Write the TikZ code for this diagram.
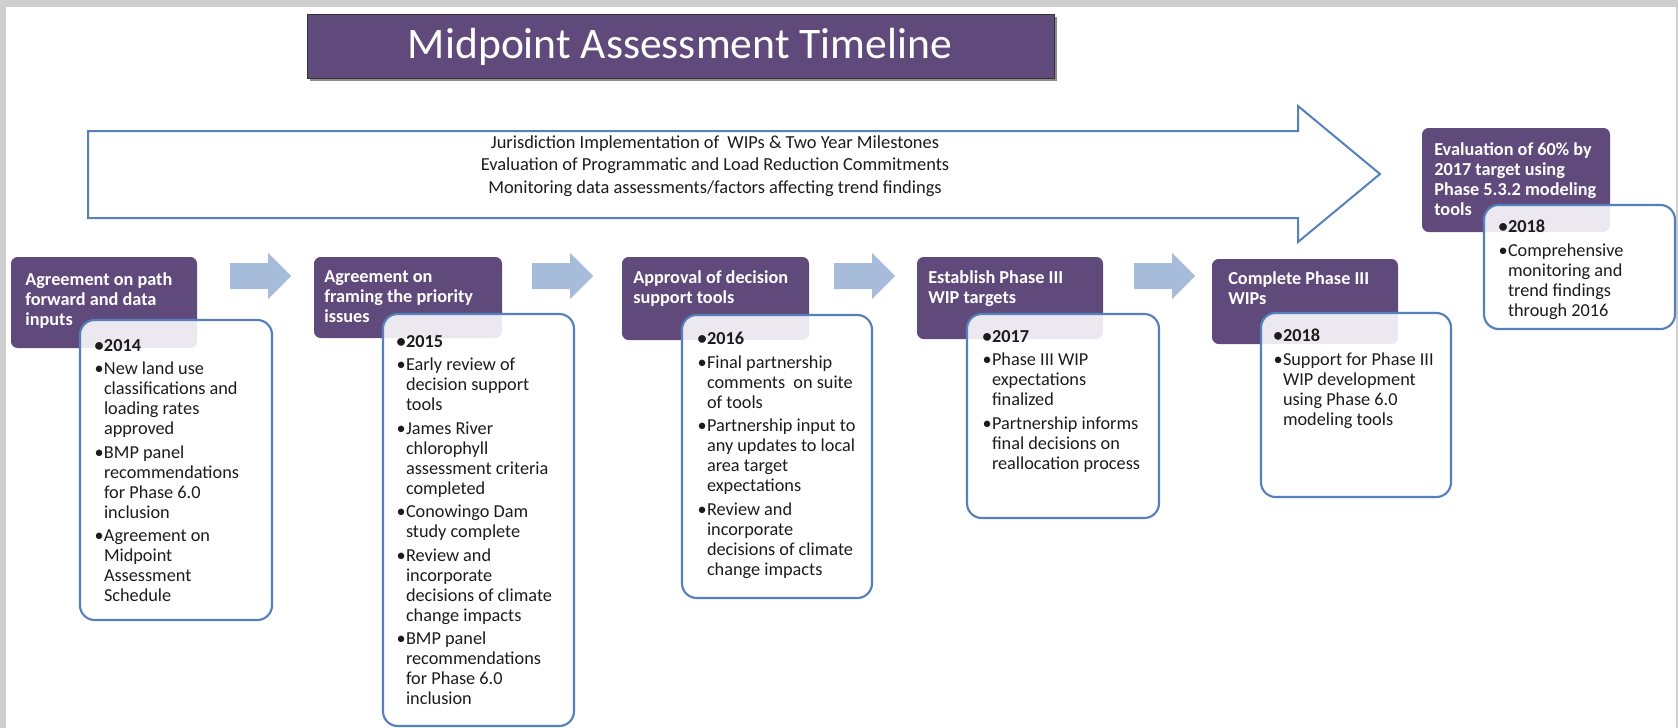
\documentclass[tikz,border=0pt]{standalone}
\usepackage{fontspec}
\setmainfont{Carlito}
\definecolor{hdrpurple}{RGB}{96,74,124}
\definecolor{cardblue}{RGB}{86,128,188}
\definecolor{chevblue}{RGB}{167,188,218}
\definecolor{framegrey}{RGB}{207,207,207}
\definecolor{inktext}{RGB}{28,28,28}
% bullet and continuation indent for the card lists
\newcommand{\bu}{\makebox[5.8pt][l]{\hspace*{-1.3pt}\textbullet}}
\newcommand{\ct}{\hspace*{5.8pt}}
% a box given by its corners (in px units): name, style, x1, y1, x2, y2
\newcommand{\boxat}[6]{%
  \node[#2, minimum width={(#5-#3)*0.75pt}, minimum height={(#6-#4)*0.75pt}]
    (#1) at ({(#3+#5)/2},{(#4+#6)/2}) {};}
% block arrow between two stages, starting at x = #1
\newcommand{\chevron}[1]{%
  \fill[chev] (#1,263) -- ({#1+38},263) -- ({#1+38},253) -- ({#1+61},276)
    -- ({#1+38},299) -- ({#1+38},289) -- (#1,289) -- cycle;}
\begin{document}
\begin{tikzpicture}[x=0.75pt,y=-0.75pt,
  hdr/.style={fill=hdrpurple, draw=none, rounded corners=5pt, inner sep=0pt, outer sep=0pt},
  card/.style={draw=cardblue, line width=1.6pt, fill=white, fill opacity=0.88,
    rounded corners=11pt, inner sep=0pt, outer sep=0pt},
  hdrtext/.style={anchor=north west, inner sep=0pt, align=left, text=white,
    font=\bfseries\fontsize{13.7}{15}\selectfont},
  cardtext/.style={anchor=north west, inner sep=0pt, align=left, text=inktext,
    font=\fontsize{13.7}{15}\selectfont},
  chev/.style={fill=chevblue},
  bigarrow/.style={draw=cardblue, line width=1.5pt, fill=white, line join=miter}]

\useasboundingbox (0,0) rectangle (1678,728);
% page frame
\fill[framegrey] (0,0) rectangle (1678,728);
\fill[white] (6,7) rectangle (1676,728);

% title bar with its shadow
\fill[black!45] (310,17) rectangle (1057,81);
\boxat{title}{fill=hdrpurple, draw=black!80, line width=0.6pt, inner sep=0pt}{307}{14}{1054}{78}
\node[text=white, font=\fontsize{32.7}{36}\selectfont] (titletext) at (680,47) {Midpoint Assessment Timeline};

% long background arrow
\draw[bigarrow] (88,131) -- (1298,131) -- (1298,106) -- (1380,174) -- (1298,242)
  -- (1298,218) -- (88,218) -- cycle;
\node[align=center, text=inktext, font=\fontsize{13.8}{16.9}\selectfont] (arrowtext) at (715,166)
  {Jurisdiction Implementation of\ \ WIPs \& Two Year Milestones\\
   Evaluation of Programmatic and Load Reduction Commitments\\
   Monitoring data assessments/factors affecting trend findings};

% stage headers
\boxat{h1}{hdr}{11}{257}{197}{348}
\boxat{h2}{hdr}{314}{257}{502}{338}
\boxat{h3}{hdr}{622}{257}{809}{340}
\boxat{h4}{hdr}{917}{257}{1103}{339}
\boxat{h5}{hdr}{1212}{259}{1398}{344}
\boxat{h6}{hdr}{1422}{128}{1610}{232}

\node[hdrtext] (h1t) at (25,272) {Agreement on path\\forward and data\\inputs};
\node[hdrtext] (h2t) at (324,270) {Agreement on\\framing the priority\\issues};
\node[hdrtext] (h3t) at (633,270) {Approval of decision\\support tools};
\node[hdrtext] (h4t) at (928,270) {Establish Phase III\\WIP targets};
\node[hdrtext] (h5t) at (1228,271) {Complete Phase III\\WIPs};
\node[hdrtext] (h6t) at (1434,142) {Evaluation of 60\% by\\2017 target using\\Phase 5.3.2 modeling\\tools};

% arrows between stages
\chevron{230}
\chevron{532}
\chevron{834}
\chevron{1134}

% detail cards
\boxat{c1}{card}{80}{320}{272}{620}
\boxat{c2}{card}{383}{314}{574}{726}
\boxat{c3}{card}{682}{315}{872}{598}
\boxat{c4}{card}{967}{314}{1159}{518}
\boxat{c5}{card}{1261}{313}{1451}{497}
\boxat{c6}{card}{1484}{205}{1675}{329}

\node[cardtext] (c1t) at (96,339) {\textbf{\bu 2014}\\[2.6pt]
  \bu New land use\\ \ct classifications and\\ \ct loading rates\\ \ct approved\\[2.6pt]
  \bu BMP panel\\ \ct recommendations\\ \ct for Phase 6.0\\ \ct inclusion\\[2.6pt]
  \bu Agreement on\\ \ct Midpoint\\ \ct Assessment\\ \ct Schedule};

\node[cardtext] (c2t) at (398,335) {\textbf{\bu 2015}\\[2.6pt]
  \bu Early review of\\ \ct decision support\\ \ct tools\\[2.6pt]
  \bu James River\\ \ct chlorophyll\\ \ct assessment criteria\\ \ct completed\\[2.6pt]
  \bu Conowingo Dam\\ \ct study complete\\[2.6pt]
  \bu Review and\\ \ct incorporate\\ \ct decisions of climate\\ \ct change impacts\\[2.6pt]
  \bu BMP panel\\ \ct recommendations\\ \ct for Phase 6.0\\ \ct inclusion};

\node[cardtext] (c3t) at (699,332) {\textbf{\bu 2016}\\[2.6pt]
  \bu Final partnership\\ \ct comments\ \ on suite\\ \ct of tools\\[2.6pt]
  \bu Partnership input to\\ \ct any updates to local\\ \ct area target\\ \ct expectations\\[2.6pt]
  \bu Review and\\ \ct incorporate\\ \ct decisions of climate\\ \ct change impacts};

\node[cardtext] (c4t) at (984,330) {\textbf{\bu 2017}\\[2.6pt]
  \bu Phase III WIP\\ \ct expectations\\ \ct finalized\\[2.6pt]
  \bu Partnership informs\\ \ct final decisions on\\ \ct reallocation process};

\node[cardtext] (c5t) at (1275,329) {\textbf{\bu 2018}\\[2.6pt]
  \bu Support for Phase III\\ \ct WIP development\\ \ct using Phase 6.0\\ \ct modeling tools};

\node[cardtext] (c6t) at (1500,220) {\textbf{\bu 2018}\\[2.6pt]
  \bu Comprehensive\\ \ct monitoring and\\ \ct trend findings\\ \ct through 2016};

\end{tikzpicture}
\end{document}
